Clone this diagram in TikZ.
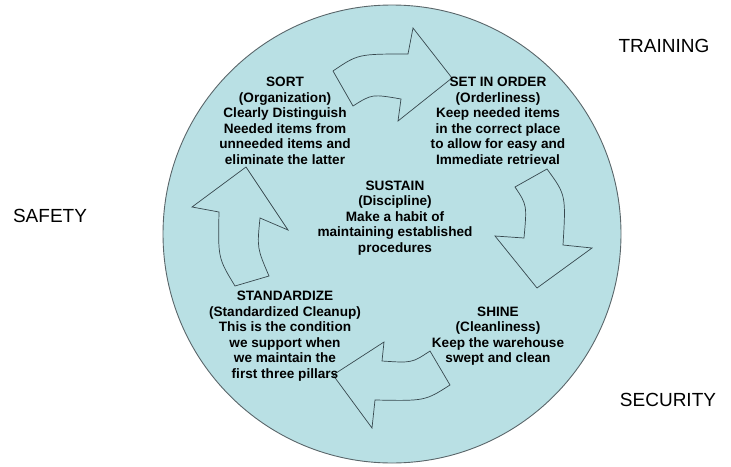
\documentclass[tikz,border=0pt]{standalone}
\usepackage{fontspec}
\setmainfont{Liberation Sans}
\definecolor{circfill}{RGB}{185,224,228}
\definecolor{circline}{RGB}{90,102,106}
\definecolor{arrline}{RGB}{55,72,78}

\begin{document}
\begin{tikzpicture}[x=1pt,y=-1pt,
    pillar/.style={font=\fontsize{13.6}{15.5}\selectfont\bfseries, align=center, inner sep=0pt},
    side/.style={font=\fontsize{19}{22}\selectfont, inner sep=0pt},
    cyclearrow/.style={draw=arrline, fill=circfill, line width=0.7pt}]
    \useasboundingbox (0,0) rectangle (731,466);
    \draw[circline, fill=circfill, line width=0.9pt] (392,234) circle (229pt); %Disc
    %
    \draw[cyclearrow] (333,71) .. controls (358,54) .. (408,54) -- (413,28) -- (452,78)
      -- (398,121) -- (401,99) .. controls (372,94) .. (353,106) -- cycle;
    \draw[cyclearrow] (547,169) .. controls (566,195) .. (563,245) -- (592,248) -- (537,288)
      -- (495,236) -- (524,238) .. controls (527,205) .. (515,187) -- cycle;
    \draw[cyclearrow] (450,385) .. controls (425,401) .. (375,400) -- (372,428) -- (333,375)
      -- (384,342) -- (382,361) .. controls (412,363) .. (430,351) -- cycle;
    \draw[cyclearrow] (235,286) .. controls (218,258) .. (219,212) -- (192,207) -- (246,167)
      -- (288,230) -- (260,218) .. controls (257,248) .. (269,276) -- cycle;
    %
    \node[pillar] (sort) at (285,121) {SORT\\(Organization)\\Clearly Distinguish\\Needed items from\\unneeded items and\\eliminate the latter};
    \node[pillar] (order) at (498,121) {SET IN ORDER\\(Orderliness)\\Keep needed items\\in the correct place\\to allow for easy and\\Immediate retrieval};
    \node[pillar] (sustain) at (395,218) {SUSTAIN\\(Discipline)\\Make a habit of\\maintaining established\\procedures};
    \node[pillar] (standard) at (285,336) {STANDARDIZE\\(Standardized Cleanup)\\This is the condition\\we support when\\we maintain the\\first three pillars};
    \node[pillar] (shine) at (498,336) {SHINE\\(Cleanliness)\\Keep the warehouse\\swept and clean};
    %
    \node[side] (training) at (664,46) {TRAINING};
    \node[side] (safety) at (50,216) {SAFETY};
    \node[side] (security) at (668,400) {SECURITY};
\end{tikzpicture}
\end{document}
